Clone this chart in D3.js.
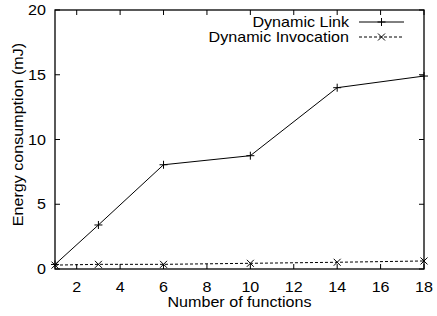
<!DOCTYPE html>
<html>
<head>
<meta charset="utf-8">
<script src="https://cdn.jsdelivr.net/npm/d3@7"></script>
<style>
  body { margin: 0; background: #fff; }
  text { font-family: "Liberation Sans", Arial, sans-serif; fill: #000; font-size: 14px; }
</style>
</head>
<body>
<div class="canvas"></div>
<script>
// data
const functions = [1, 3, 6, 10, 14, 18];
const dynamicLink = [0.35, 3.4, 8.05, 8.75, 14.0, 14.9];
const dynamicInvocation = [0.3, 0.36, 0.36, 0.44, 0.52, 0.62];
const xTicks = [2, 4, 6, 8, 10, 12, 14, 16, 18];
const yTicks = [0, 5, 10, 15, 20];
const seriesNames = ["Dynamic Link", "Dynamic Invocation"];

const dims = {width: 437, height: 316};
const plot = {left: 55, right: 424, top: 10, bottom: 269};
const stretch = 1.15; // the original font is a bit wider than Liberation Sans

const svg = d3.select(".canvas").append("svg")
    .attr("width", dims.width)
    .attr("height", dims.height);

const x = d3.scaleLinear().domain([1, 18]).range([plot.left, plot.right]);
const y = d3.scaleLinear().domain([0, 20]).range([plot.bottom, plot.top]);

// text with a horizontal stretch
const label = (g, tx, ty, str, anchor, rot) =>
    g.append("text")
        .attr("transform", `translate(${tx},${ty})${rot ? ` rotate(${rot})` : ""} scale(${stretch},1)`)
        .attr("text-anchor", anchor)
        .text(str);

// ticks on all four sides, pointing inward (gnuplot style)
const tickLen = 5;
const gTicks = svg.append("g").attr("stroke", "#000").attr("stroke-width", 1);
xTicks.forEach(t => {
    gTicks.append("line").attr("x1", x(t)).attr("x2", x(t))
        .attr("y1", plot.bottom).attr("y2", plot.bottom - tickLen);
    gTicks.append("line").attr("x1", x(t)).attr("x2", x(t))
        .attr("y1", plot.top).attr("y2", plot.top + tickLen);
});
yTicks.forEach(t => {
    gTicks.append("line").attr("x1", plot.left).attr("x2", plot.left + tickLen)
        .attr("y1", y(t)).attr("y2", y(t));
    gTicks.append("line").attr("x1", plot.right).attr("x2", plot.right - tickLen)
        .attr("y1", y(t)).attr("y2", y(t));
});

// tick labels
const gLabels = svg.append("g");
xTicks.forEach(t => label(gLabels, x(t), 291.5, t, "middle"));
yTicks.forEach(t => label(gLabels, plot.left - 9, y(t) + 5, t, "end"));

// axis titles
label(svg, (plot.left + plot.right) / 2, 307, "Number of functions", "middle");
label(svg, 22.5, 134.5, "Energy consumption (mJ)", "middle", -90);

// lines
const line = d3.line().x((d, i) => x(functions[i])).y(d => y(d));

svg.append("path").datum(dynamicLink)
    .attr("d", line).attr("fill", "none")
    .attr("stroke", "#000").attr("stroke-width", 1);
svg.append("path").datum(dynamicInvocation)
    .attr("d", line).attr("fill", "none")
    .attr("stroke", "#000").attr("stroke-width", 1)
    .attr("stroke-dasharray", "3,2");

// point markers
const plus = (g, cx, cy) => {
    g.append("path").attr("d", `M${cx - 4},${cy}H${cx + 4}M${cx},${cy - 4}V${cy + 4}`)
        .attr("stroke", "#000").attr("stroke-width", 1);
};
const cross = (g, cx, cy) => {
    g.append("path").attr("d", `M${cx - 3.5},${cy - 3.5}L${cx + 3.5},${cy + 3.5}M${cx - 3.5},${cy + 3.5}L${cx + 3.5},${cy - 3.5}`)
        .attr("stroke", "#000").attr("stroke-width", 1);
};
const marks = svg.append("g");
dynamicLink.forEach((v, i) => plus(marks, x(functions[i]), y(v)));
dynamicInvocation.forEach((v, i) => cross(marks, x(functions[i]), y(v)));

// frame
svg.append("rect")
    .attr("x", plot.left).attr("y", plot.top)
    .attr("width", plot.right - plot.left).attr("height", plot.bottom - plot.top)
    .attr("fill", "none").attr("stroke", "#000").attr("stroke-width", 1.3);

// legend
const legend = svg.append("g");
const legendRows = [22, 37];
seriesNames.forEach((name, i) => {
    const ly = legendRows[i];
    label(legend, 349, ly + 5, name, "end");
    legend.append("line")
        .attr("x1", 359).attr("x2", 404).attr("y1", ly).attr("y2", ly)
        .attr("stroke", "#000").attr("stroke-width", 1)
        .attr("stroke-dasharray", i === 1 ? "3,2" : null);
    if (i === 0) plus(legend, 381.5, ly); else cross(legend, 381.5, ly);
});
</script>
</body>
</html>
